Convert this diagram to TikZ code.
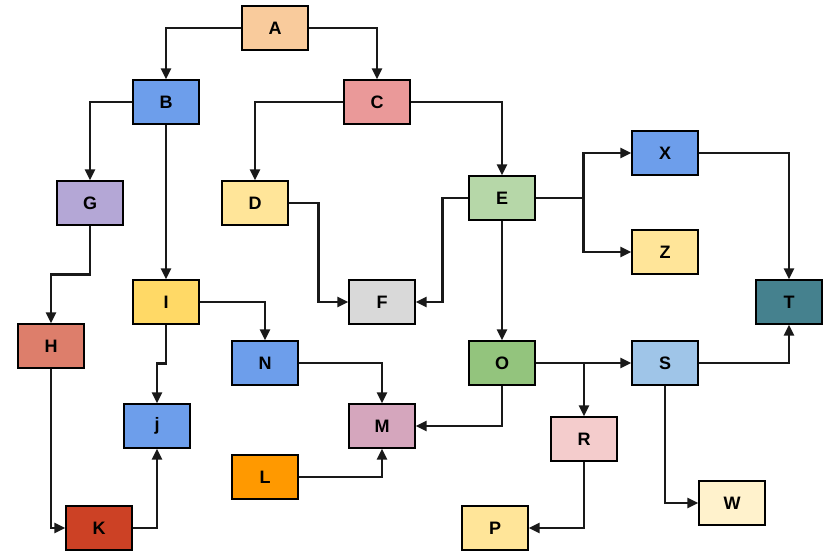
\documentclass[tikz,border=0pt]{standalone}
\usepackage{fontspec}
\setmainfont{Liberation Sans}
\usetikzlibrary{arrows.meta}
\definecolor{cA}{HTML}{F9CB9C}
\definecolor{cBlue}{HTML}{6D9EEB}
\definecolor{cC}{HTML}{EA9999}
\definecolor{cG}{HTML}{B4A7D6}
\definecolor{cYel}{HTML}{FFE599}
\definecolor{cE}{HTML}{B6D7A8}
\definecolor{cT}{HTML}{45818E}
\definecolor{cI}{HTML}{FFD966}
\definecolor{cF}{HTML}{D9D9D9}
\definecolor{cH}{HTML}{DD7E6B}
\definecolor{cO}{HTML}{93C47D}
\definecolor{cS}{HTML}{9FC5E8}
\definecolor{cM}{HTML}{D5A6BD}
\definecolor{cR}{HTML}{F4CCCC}
\definecolor{cL}{HTML}{FF9900}
\definecolor{cW}{HTML}{FFF2CC}
\definecolor{cK}{HTML}{CC4125}
\tikzset{
  box/.style={draw=black, line width=1.2pt, minimum width=66pt, minimum height=44pt, inner sep=0pt,
    font=\fontsize{18}{20}\selectfont\bfseries},
  conn/.style={draw=black!90, line width=2.4pt, -{Triangle[length=11pt,width=10pt]}}
}
\begin{document}
\begin{tikzpicture}[x=1pt,y=-1pt]
\useasboundingbox (0,0) rectangle (832,558);
\node[box, fill=cA] (A) at (275,28) {A};
\node[box, fill=cBlue] (B) at (166,102) {B};
\node[box, fill=cC] (C) at (377,102) {C};
\node[box, fill=cG] (G) at (90,203) {G};
\node[box, fill=cYel] (D) at (255,203) {D};
\node[box, fill=cE] (E) at (502,198) {E};
\node[box, fill=cBlue] (X) at (665,153) {X};
\node[box, fill=cYel] (Z) at (665,252) {Z};
\node[box, fill=cT] (T) at (789,302) {T};
\node[box, fill=cI] (I) at (166,302) {I};
\node[box, fill=cF] (F) at (382,302) {F};
\node[box, fill=cH] (H) at (51,346) {H};
\node[box, fill=cBlue] (N) at (265,363) {N};
\node[box, fill=cO] (O) at (502,363) {O};
\node[box, fill=cS] (S) at (665,363) {S};
\node[box, fill=cBlue] (j) at (157,426) {j};
\node[box, fill=cM] (M) at (382,426) {M};
\node[box, fill=cR] (R) at (584,439) {R};
\node[box, fill=cL] (L) at (265,477) {L};
\node[box, fill=cW] (W) at (732,503) {W};
\node[box, fill=cK] (K) at (99,528) {K};
\node[box, fill=cYel] (P) at (495,528) {P};

\draw[conn] (A.west) -| (B.north);
\draw[conn] (A.east) -| (C.north);
\draw[conn] (B.west) -| (G.north);
\draw[conn] (B.south) -- (I.north);
\draw[conn] (C.west) -| (D.north);
\draw[conn] (C.east) -| (E.north);
\draw[conn] (G.south) -- ++(0,49) -| (H.north);
\draw[conn] (D.east) -- ++(30,0) |- (F.west);
\draw[conn] (E.west) -- ++(-26,0) |- (F.east);
\draw[conn] (E.east) -- ++(48,0) |- (X.west);
\draw[conn] (E.east) -- ++(48,0) |- (Z.west);
\draw[conn] (X.east) -| (T.north);
\draw[conn] (E.south) -- (O.north);
\draw[conn] (I.east) -| (N.north);
\draw[conn] (I.south) -- ++(0,39) -| (j.north);
\draw[conn] (H.south) |- (K.west);
\draw[conn] (K.east) -| (j.south);
\draw[conn] (N.east) -| (M.north);
\draw[conn] (L.east) -| (M.south);
\draw[conn] (O.south) |- (M.east);
\draw[conn] (O.east) -- (S.west);
\draw[conn] (O.east) -| (R.north);
\draw[conn] (R.south) |- (P.east);
\draw[conn] (S.south) |- (W.west);
\draw[conn] (S.east) -| (T.south);
\end{tikzpicture}
\end{document}
